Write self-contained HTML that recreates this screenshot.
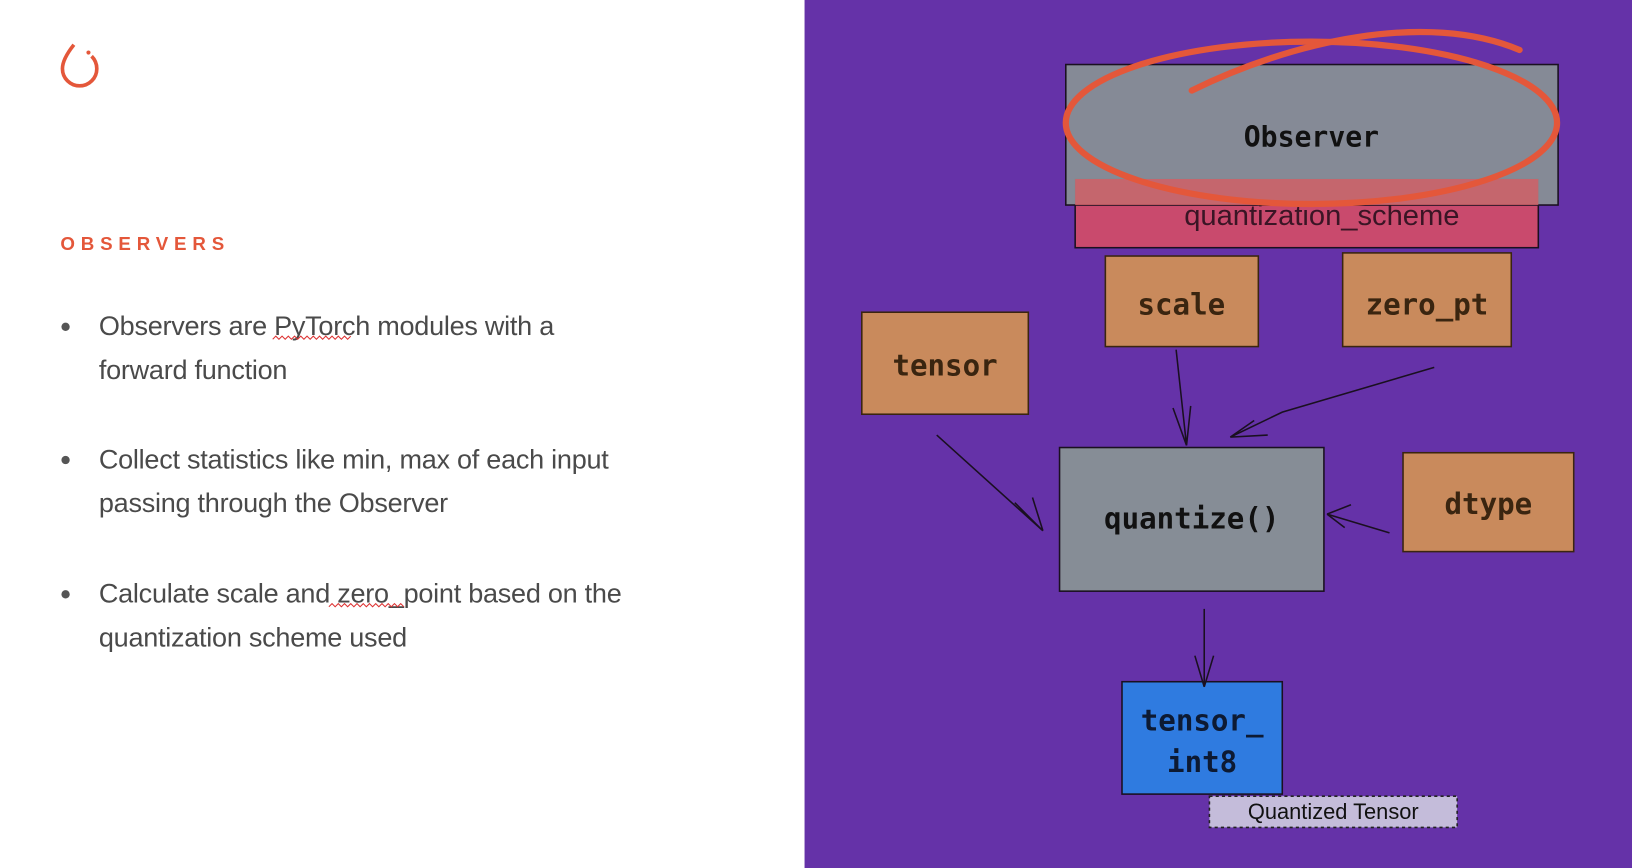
<!DOCTYPE html>
<html><head><meta charset="utf-8"><style>
html,body{margin:0;padding:0;width:1632px;height:868px;overflow:hidden;background:#fff}
svg{display:block}
</style></head><body>
<svg width="1632" height="868" viewBox="0 0 1568 834" preserveAspectRatio="none" xmlns="http://www.w3.org/2000/svg">
<rect x="0" y="0" width="773" height="834" fill="#fff"/>
<rect x="773" y="0" width="795" height="834" fill="#6532a8"/>
<!-- logo -->
<path d="M71 43 C63 53 60 60 60 66 A16.5 16.5 0 0 0 93 66 C93 60 90 56 88 54" fill="none" stroke="#e4573a" stroke-width="3.5"/>
<circle cx="85" cy="50.5" r="2" fill="#e4573a"/>
<text x="58" y="240" font-family="Liberation Sans, sans-serif" font-weight="bold" font-size="18" letter-spacing="5.6" fill="#e4573a">OBSERVERS</text>
<g font-family="Liberation Sans, sans-serif" font-size="26" fill="#4a4a4a" letter-spacing="-0.25">
<circle cx="63" cy="314" r="4" fill="#555"/>
<text x="95" y="322">Observers are PyTorch modules with a</text>
<text x="95" y="364">forward function</text>
<circle cx="63" cy="442" r="4" fill="#555"/>
<text x="95" y="450">Collect statistics like min, max of each input</text>
<text x="95" y="492">passing through the Observer</text>
<circle cx="63" cy="571" r="4" fill="#555"/>
<text x="95" y="579">Calculate scale and zero_point based on the</text>
<text x="95" y="621">quantization scheme used</text>
</g>
<path d="M262 326 l3 -3 3 3 3 -3 3 3 3 -3 3 3 3 -3 3 3 3 -3 3 3 3 -3 3 3 3 -3 3 3 3 -3 3 3 3 -3 3 3 3 -3 3 3 3 -3 3 3 3 -3 3 3 3 -3" fill="none" stroke="#d33" stroke-width="1"/>
<path d="M316 583 l3 -3 3 3 3 -3 3 3 3 -3 3 3 3 -3 3 3 3 -3 3 3 3 -3 3 3 3 -3 3 3 3 -3 3 3 3 -3 3 3 3 -3 3 3 3 -3 3 3 3 -3 3 3" fill="none" stroke="#d33" stroke-width="1"/>
<!-- diagram -->
<g stroke="#1a1020" stroke-width="1.5" font-family="DejaVu Sans Mono, Liberation Mono, monospace" font-weight="bold">
<rect x="1033" y="172" width="445" height="66" fill="#c94a6d"/>
<text x="1270" y="216" font-family="Liberation Sans, sans-serif" font-weight="normal" font-size="28" fill="#3a1525" stroke="none" text-anchor="middle">quantization_scheme</text>
<rect x="1024" y="62" width="473" height="135" fill="#868d96" fill-opacity="0.97"/>
<rect x="1033" y="172" width="445" height="25" fill="#d05f66" stroke="none" opacity="0.85"/>
<text x="1260" y="141" font-size="27" fill="#111" stroke="none" text-anchor="middle">Observer</text>
<rect x="1062" y="246" width="147" height="87" fill="#c98a5c" stroke="#3a2510"/>
<text x="1135" y="302" font-size="28" fill="#3a2510" stroke="none" text-anchor="middle">scale</text>
<rect x="1290" y="243" width="162" height="90" fill="#c98a5c" stroke="#3a2510"/>
<text x="1371" y="302" font-size="28" fill="#3a2510" stroke="none" text-anchor="middle">zero_pt</text>
<rect x="828" y="300" width="160" height="98" fill="#c98a5c" stroke="#3a2510"/>
<text x="908" y="361" font-size="28" fill="#3a2510" stroke="none" text-anchor="middle">tensor</text>
<rect x="1018" y="430" width="254" height="138" fill="#868d96"/>
<text x="1145" y="508" font-size="28" fill="#111" stroke="none" text-anchor="middle">quantize()</text>
<rect x="1348" y="435" width="164" height="95" fill="#c98a5c" stroke="#3a2510"/>
<text x="1430" y="494" font-size="28" fill="#3a2510" stroke="none" text-anchor="middle">dtype</text>
<rect x="1078" y="655" width="154" height="108" fill="#2f7be0"/>
<text x="1155" y="702" font-size="28" fill="#0d1a33" stroke="none" text-anchor="middle">tensor_</text>
<text x="1155" y="742" font-size="28" fill="#0d1a33" stroke="none" text-anchor="middle">int8</text>
<rect x="1162" y="765" width="238" height="30" fill="#c4bcda" stroke="#222" stroke-dasharray="3 3"/>
<text x="1281" y="787" font-family="Liberation Sans, sans-serif" font-weight="normal" font-size="21" fill="#111" stroke="none" text-anchor="middle">Quantized Tensor</text>
<g fill="none">
<path d="M900 418 L1002 510 M1002 510 L975 483 M1002 510 L992 478"/>
<path d="M1130 336 L1140 428 M1140 428 L1127 392 M1140 428 L1144 390"/>
<path d="M1378 353 L1232 396 L1182 420 M1182 420 L1205 404 M1182 420 L1218 418"/>
<path d="M1335 512 L1275 494 M1275 494 L1298 485 M1275 494 L1292 507"/>
<path d="M1157 585 L1157 660 M1157 660 L1148 630 M1157 660 L1166 630"/>
</g>
</g>
<ellipse cx="1260" cy="118" rx="236" ry="78" fill="none" stroke="#e4573a" stroke-width="6"/>
<path d="M1145 87 C1240 40 1370 10 1460 48" fill="none" stroke="#e4573a" stroke-width="6" stroke-linecap="round"/>
</svg>
</body></html>
